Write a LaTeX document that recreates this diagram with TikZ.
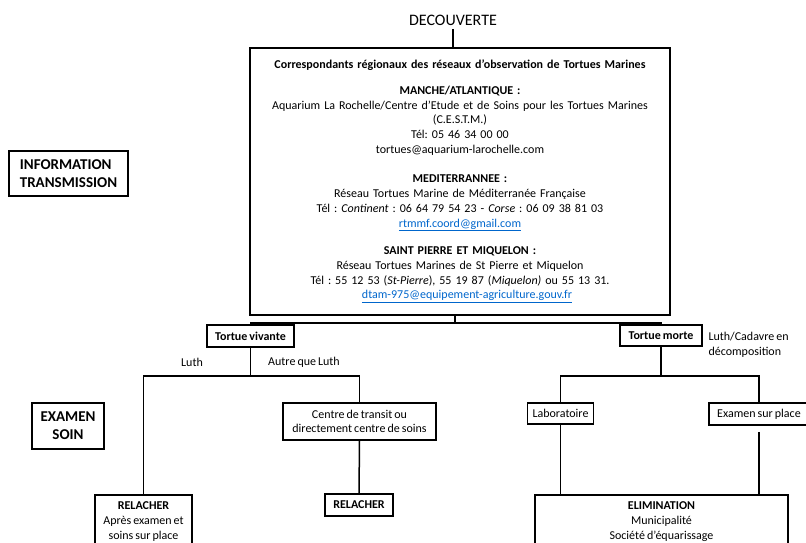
\documentclass[tikz,border=0pt]{standalone}
\usepackage{fontspec}
\setmainfont[WordSpace=0.75]{Carlito}
\frenchspacing
\usetikzlibrary{calc, positioning}
\definecolor{linkblue}{RGB}{0,102,204}
\newcommand{\lien}[1]{\textcolor{linkblue}{\underline{#1}}}

\begin{document}
\begin{tikzpicture}[x=1pt, y=-1pt, line join=miter, font=\fontsize{12}{14.7}\selectfont,
	box/.style={draw, line width=1.5pt, inner xsep=5pt, inner ysep=3pt, align=center},
	trait/.style={line width=1.5pt},
	gros/.style={font=\fontsize{15}{18}\selectfont\bfseries}]
\useasboundingbox (0,0) rectangle (806,542);
%========================
% Top: discovery and regional networks
%========================
\node[font=\fontsize{16}{19}\selectfont] (dec) at (453,20) {DECOUVERTE};

\node[box, minimum width=420pt, minimum height=267pt, text width=410pt] (corr) at (460,181.5) {
	\textbf{Correspondants régionaux des réseaux d’observation de Tortues Marines}\\[11pt]
	\textbf{MANCHE/ATLANTIQUE :}\\
	Aquarium La Rochelle/Centre d’Etude et de Soins pour les Tortues Marines\\
	(C.E.S.T.M.)\\
	Tél: 05 46 34 00 00\\
	tortues@aquarium-larochelle.com\\[15pt]
	\textbf{MEDITERRANNEE :}\\
	Réseau Tortues Marine de Méditerranée Française\\
	Tél : \textit{Continent} : 06 64 79 54 23 - \textit{Corse} : 06 09 38 81 03\\
	\lien{rtmmf.coord@gmail.com}\\[13pt]
	\textbf{SAINT PIERRE ET MIQUELON :}\\
	Réseau Tortues Marines de St Pierre et Miquelon\\
	Tél : 55 12 53 (\textit{St-Pierre}), 55 19 87 (\textit{Miquelon)} ou 55 13 31.\\
	\hspace*{14pt}\lien{dtam-975@equipement-agriculture.gouv.fr}};

\draw[trait] (dec.south) -- (dec.south |- corr.north);

% side labels
\node[box, gros, align=left, minimum width=119pt, minimum height=45pt] (info) at (68.5,173.5) {INFORMATION\\TRANSMISSION};
\node[box, gros, minimum width=72pt, minimum height=46pt] (soin) at (68,426) {EXAMEN\\SOIN};

%========================
% Left: living turtle
%========================
\node[box, minimum width=87pt, minimum height=22pt] (vivante) at (250.5,336) {\textbf{Tortue vivante}};
\node (luth) at (192,362) {Luth};
\node (autre) at (304,362) {Autre que Luth};

\node[box, minimum width=153pt, minimum height=37pt] (centre) at (359.5,421.5) {Centre de transit ou\\directement centre de soins};
\node[box, anchor=north, inner ysep=7pt, minimum width=97pt, text depth=30pt] (relacher1) at (143.5,494) {\textbf{RELACHER}\\Après examen et\\soins sur place};
\node[box, minimum width=68pt, minimum height=22pt] (relacher2) at (359,505) {\textbf{RELACHER}};

%========================
% Right: dead turtle
%========================
\node[box, minimum width=82pt, minimum height=21pt] (morte) at (661,335.5) {\textbf{Tortue morte}};
\node[anchor=west, align=left] (cadavre) at (705,344.5) {Luth/Cadavre en\\décomposition};

\node[box, minimum width=65pt, minimum height=21pt] (labo) at (560.5,413.5) {Laboratoire};
\node[box, minimum width=100pt, minimum height=22pt] (examen) at (759,414) {Examen sur place};
\node[box, anchor=north, inner ysep=7pt, minimum width=253pt, text depth=30pt] (elim) at (661.5,494) {\textbf{ELIMINATION}\\Municipalité\\Société d’équarissage};

% connectors
\coordinate (split) at ($(corr.south)+(-5,7)$);
\draw[trait] (corr.south -| split) -- (split);
\draw[trait] (vivante.north) |- (split) -| (morte.north);

\coordinate (vsplit) at ($(vivante.south)+(0,28)$);
\draw[trait] (vivante.south) -- (vsplit);
\draw[trait] (relacher1.north) |- (vsplit) -| (centre.north);
\draw[trait] (centre.south) -- (relacher2.north);

\coordinate (msplit) at ($(morte.south)+(0,29)$);
\draw[trait] (morte.south) -- (msplit);
\draw[trait] (labo.north) |- (msplit) -| (examen.north);
\draw[trait] (labo.south) -- (labo.south |- elim.north);
\draw[trait] ($(examen.south)+(0,6)$) -- (examen.south |- elim.north);
\end{tikzpicture}
\end{document}
